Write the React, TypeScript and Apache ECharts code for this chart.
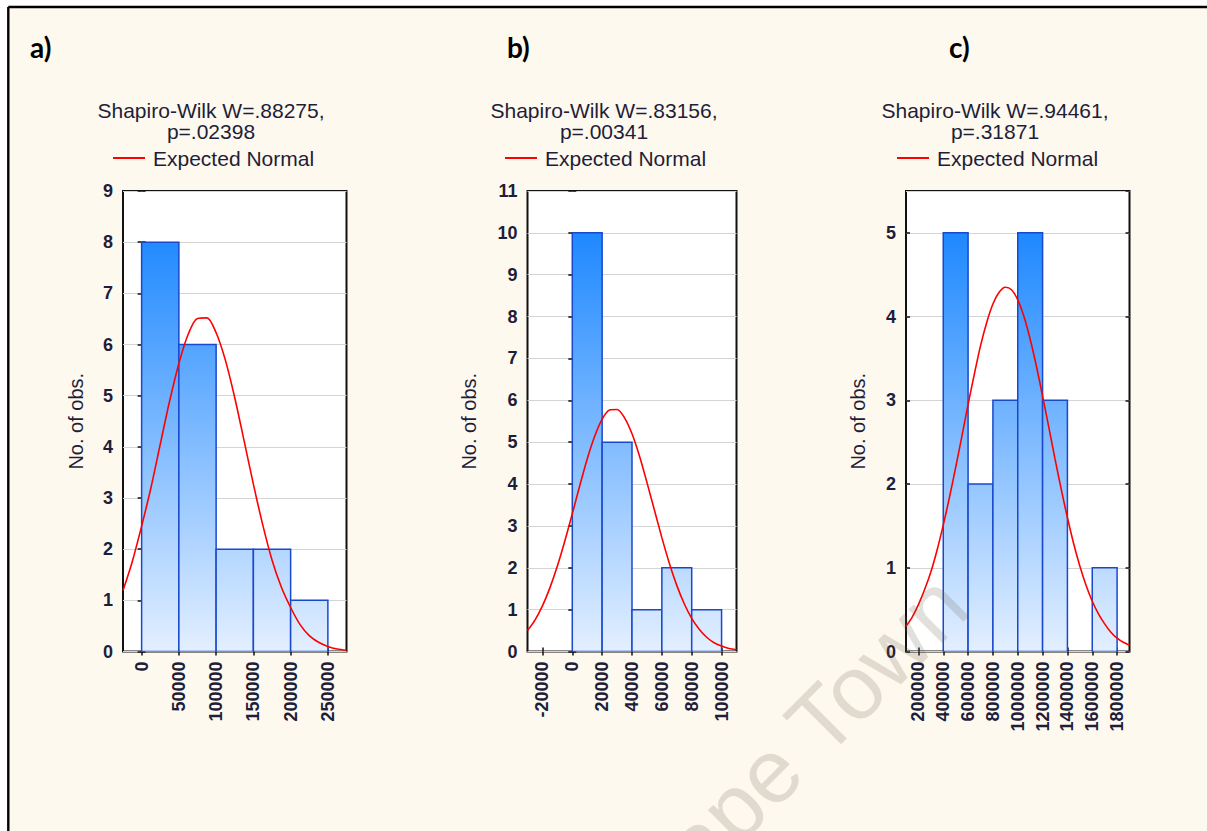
import React, { useEffect, useRef } from "react";
import * as echarts from "echarts";

// ---------- data ----------
// Panel a)
const edgesA = [0, 50000, 100000, 150000, 200000, 250000];
const countsA = [8, 6, 2, 2, 1];
const curveXA = [-25000, -12500, 0, 12500, 25000, 37500, 50000, 62500, 75000, 87500, 100000, 112500, 125000, 137500, 150000, 162500, 175000, 187500, 200000, 212500, 225000, 237500, 250000, 262500, 275000];
const curveYA = [1.19, 1.76, 2.45, 3.2, 4.05, 4.89, 5.63, 6.2, 6.51, 6.52, 6.23, 5.69, 4.96, 4.12, 3.27, 2.48, 1.79, 1.26, 0.86, 0.53, 0.31, 0.18, 0.1, 0.05, 0.025];
const xTicksA = [0, 50000, 100000, 150000, 200000, 250000];
const titleA = "Shapiro-Wilk W=.88275,\np=.02398";

// Panel b)
const edgesB = [0, 20000, 40000, 60000, 80000, 100000];
const countsB = [10, 5, 1, 2, 1];
const curveXB = [-30000, -25000, -20000, -15000, -10000, -5000, 0, 5000, 10000, 15000, 20000, 25000, 30000, 35000, 40000, 45000, 50000, 55000, 60000, 65000, 70000, 75000, 80000, 85000, 90000, 95000, 100000, 105000, 110000];
const curveYB = [0.5, 0.75, 1.09, 1.52, 2.04, 2.64, 3.29, 3.96, 4.6, 5.14, 5.55, 5.77, 5.78, 5.58, 5.2, 4.67, 4.04, 3.38, 2.72, 2.11, 1.58, 1.14, 0.79, 0.53, 0.34, 0.21, 0.13, 0.07, 0.04];
const xTicksB = [-20000, 0, 20000, 40000, 60000, 80000, 100000];
const titleB = "Shapiro-Wilk W=.83156,\np=.00341";

// Panel c)
const edgesC = [400000, 600000, 800000, 1000000, 1200000, 1400000, 1600000, 1800000];
const countsC = [5, 2, 3, 5, 3, 0, 1];
const curveXC = [100000, 150000, 200000, 250000, 300000, 350000, 400000, 450000, 500000, 550000, 600000, 650000, 700000, 750000, 800000, 850000, 900000, 950000, 1000000, 1050000, 1100000, 1150000, 1200000, 1250000, 1300000, 1350000, 1400000, 1450000, 1500000, 1550000, 1600000, 1650000, 1700000, 1750000, 1800000, 1850000, 1900000];
const curveYC = [0.3, 0.41, 0.56, 0.74, 0.95, 1.21, 1.51, 1.84, 2.2, 2.57, 2.95, 3.31, 3.65, 3.93, 4.15, 4.29, 4.35, 4.32, 4.2, 4.0, 3.73, 3.41, 3.05, 2.68, 2.3, 1.94, 1.6, 1.29, 1.02, 0.79, 0.6, 0.45, 0.33, 0.23, 0.16, 0.11, 0.075];
const xTicksC = [200000, 400000, 600000, 800000, 1000000, 1200000, 1400000, 1600000, 1800000];
const titleC = "Shapiro-Wilk W=.94461,\np=.31871";

const legendName = "Expected Normal";
const yName = "No. of obs.";
const letters = ["a)", "b)", "c)"];
const watermark = "Cape Town";

// ---------- layout / style ----------
const FONT = '"Liberation Sans", Arial, sans-serif';
const TXT = "#1e1e3a";
const GRID_TOP = 191;
const GRID_H = 460.5;

const panels = [
  { edges: edgesA, counts: countsA, cx: curveXA, cy: curveYA, ticks: xTicksA, xMin: -25000, xMax: 275000, yMax: 9, title: titleA,
    left: 123, width: 223.5, titleX: 211, legendX: 113, nameGap: 37, letterX: 30 },
  { edges: edgesB, counts: countsB, cx: curveXB, cy: curveYB, ticks: xTicksB, xMin: -30000, xMax: 110000, yMax: 11, title: titleB,
    left: 527.5, width: 209, titleX: 604, legendX: 505, nameGap: 49, letterX: 507 },
  { edges: edgesC, counts: countsC, cx: curveXC, cy: curveYC, ticks: xTicksC, xMin: 100000, xMax: 1900000, yMax: 5.5, title: titleC,
    left: 906, width: 223.5, titleX: 995, legendX: 897, nameGap: 38, letterX: 949 },
];

const barFill = {
  type: "linear",
  x: 0,
  y: 232,
  x2: 0,
  y2: 651,
  global: true,
  colorStops: [
    { offset: 0, color: "#1E88FF" },
    { offset: 1, color: "#E3EFFF" },
  ],
};

const plain = (v: number) => String(v);

function buildOption() {
  const grid: any[] = [];
  const xAxis: any[] = [];
  const yAxis: any[] = [];
  const series: any[] = [];
  const title: any[] = [];
  const legend: any[] = [];
  const tickStyle = { color: "#111", width: 1.5 };

  panels.forEach((p, i) => {
    grid.push({
      left: p.left, top: GRID_TOP, width: p.width, height: GRID_H,
      show: true, backgroundColor: "#ffffff", borderColor: "#111", borderWidth: 2,
      outerBoundsMode: "none", containLabel: false,
    });
    xAxis.push({
      type: "value", gridIndex: i, position: "bottom", min: p.xMin, max: p.xMax,
      axisLine: { show: false }, splitLine: { show: false },
      axisTick: { show: true, inside: true, length: 4, customValues: p.ticks, lineStyle: tickStyle },
      axisLabel: { customValues: p.ticks, formatter: plain, rotate: 90, margin: 10, fontSize: 18, fontWeight: "bold", color: TXT, fontFamily: FONT },
    });
    xAxis.push({
      type: "value", gridIndex: i, position: "top", min: p.xMin, max: p.xMax,
      axisLine: { show: false }, splitLine: { show: false },
      axisTick: { show: true, inside: true, length: 4, customValues: p.ticks, lineStyle: tickStyle },
      axisLabel: { show: false, customValues: p.ticks },
    });
    yAxis.push({
      type: "value", gridIndex: i, position: "left", min: 0, max: p.yMax, interval: 1,
      axisLine: { show: false },
      splitLine: { show: true, lineStyle: { color: "#d4d4d4", width: 1 } },
      axisTick: { show: true, inside: true, length: 4, lineStyle: tickStyle },
      axisLabel: { formatter: plain, margin: 10, fontSize: 18, fontWeight: "bold", color: TXT, fontFamily: FONT, showMaxLabel: p.yMax % 1 === 0 },
      name: yName, nameLocation: "middle", nameRotate: 90, nameGap: p.nameGap,
      nameTextStyle: { fontSize: 20, color: TXT, fontFamily: FONT },
    });
    yAxis.push({
      type: "value", gridIndex: i, position: "right", min: 0, max: p.yMax, interval: 1,
      axisLine: { show: false }, splitLine: { show: false },
      axisTick: { show: true, inside: true, length: 4, lineStyle: tickStyle },
      axisLabel: { show: false },
    });

    const hist = p.counts.map((c, k) => [p.edges[k], p.edges[k + 1], c]);
    series.push({
      type: "custom", name: "Histogram", xAxisIndex: 2 * i, yAxisIndex: 2 * i,
      data: hist, encode: { x: [0, 1], y: 2 }, clip: true,
      renderItem: (params: any, api: any) => {
        const x0 = api.value(0);
        const x1 = api.value(1);
        const c = api.value(2);
        if (!c) return null;
        const pTop = api.coord([x0, c]);
        const pBot = api.coord([x1, 0]);
        return {
          type: "rect",
          shape: { x: pTop[0], y: pTop[1], width: pBot[0] - pTop[0], height: pBot[1] - pTop[1] },
          style: { fill: barFill, stroke: "#1848cc", lineWidth: 1.5 },
        };
      },
    });
    series.push({
      type: "line", name: legendName, xAxisIndex: 2 * i, yAxisIndex: 2 * i,
      data: p.cx.map((x, k) => [x, p.cy[k]]),
      smooth: 0.3, showSymbol: false, symbol: "none",
      lineStyle: { color: "#ff0000", width: 1.6 }, itemStyle: { color: "#ff0000" },
      z: 5,
    });
    title.push({
      text: p.title, left: p.titleX, top: 100, textAlign: "center", padding: 0, itemGap: 0,
      textStyle: { fontSize: 21, fontWeight: "normal", lineHeight: 21, color: TXT, fontFamily: FONT },
    });
    legend.push({
      left: p.legendX, top: 147.5, padding: 0, selectedMode: false,
      data: [{ name: legendName, icon: "rect" }],
      itemWidth: 32, itemHeight: 2,
      textStyle: { fontSize: 21, color: TXT, fontFamily: FONT, padding: [0, 0, 0, 3] },
    });
  });

  const graphic: any[] = [
    { type: "rect", shape: { x: 0, y: 0, width: 1207, height: 6 }, style: { fill: "#ffffff" }, silent: true },
    { type: "rect", shape: { x: 0, y: 0, width: 7, height: 831 }, style: { fill: "#ffffff" }, silent: true },
    { type: "line", shape: { x1: 8.3, y1: 7, x2: 1207, y2: 7 }, style: { stroke: "#000", lineWidth: 2.4 }, silent: true },
    { type: "line", shape: { x1: 8.3, y1: 7, x2: 8.3, y2: 831 }, style: { stroke: "#000", lineWidth: 2.4 }, silent: true },
    {
      type: "text", x: 983, y: 622, rotation: Math.PI / 4, z: 100, silent: true,
      style: { text: watermark, fontSize: 90, fontFamily: FONT, fill: "rgba(110,100,85,0.2)", align: "right", verticalAlign: "bottom" },
    },
  ];
  panels.forEach((p, i) => {
    graphic.push({
      type: "text", x: p.letterX, y: 47,
      style: { text: letters[i], fontSize: 28, fontWeight: "bold", fontFamily: "Lato, 'Open Sans', sans-serif", fill: "#000", verticalAlign: "middle" },
    });
  });

  return {
    animation: false,
    backgroundColor: "#FEF9EE",
    grid, xAxis, yAxis, series, title, legend, graphic,
  };
}

export default function App() {
  const ref = useRef<HTMLDivElement>(null);
  useEffect(() => {
    if (!ref.current) return;
    const chart = echarts.init(ref.current, null, { renderer: "svg" });
    chart.setOption(buildOption() as any);
    return () => chart.dispose();
  }, []);
  return <div ref={ref} style={{ position: "fixed", left: 0, top: 0, width: 1207, height: 831 }} />;
}
